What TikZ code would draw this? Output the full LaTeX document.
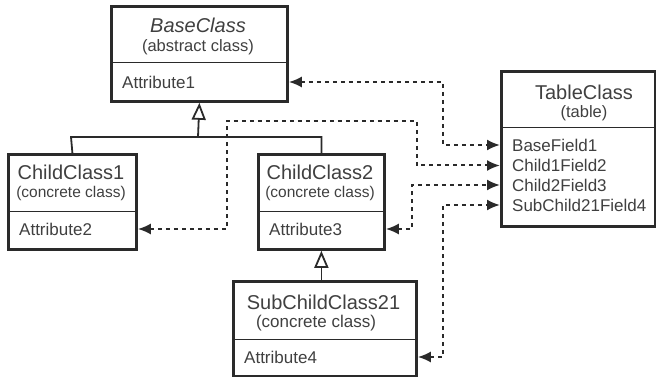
\documentclass[tikz,border=0pt]{standalone}
\usepackage{fontspec}
\setmainfont{Liberation Sans}
\usetikzlibrary{arrows.meta}
\definecolor{ink}{HTML}{2A2A2A}
\definecolor{txt}{HTML}{404040}
\tikzset{
  cls/.style={draw=ink, line width=2.8pt, fill=white, anchor=north west, inner sep=0pt},
  divider/.style={draw=ink, line width=1pt},
  ttl/.style={text=txt, font=\fontsize{20}{22}\selectfont, inner sep=0pt},
  sub/.style={text=txt, font=\fontsize{16.5}{18}\selectfont, inner sep=0pt},
  attr/.style={text=txt, font=\fontsize{17}{19}\selectfont, inner sep=0pt, anchor=west},
  inh/.style={draw=ink, line width=1.8pt, -{Triangle[open, length=17pt, width=14pt, line width=1.8pt]}},
  tree/.style={draw=ink, line width=1.8pt},
  dep/.style={draw=ink, line width=2pt, dash pattern=on 4pt off 4pt,
    {Latex[length=13pt, width=11pt]}-{Latex[length=13pt, width=11pt]}}
}
\begin{document}
\begin{tikzpicture}[x=1pt, y=-1pt]
\useasboundingbox (0,0) rectangle (656,377);
% Base class
\node[cls, minimum width=176pt, minimum height=95pt] (base) at (110,5) {};
\draw[divider] (110,63) -- (286,63);
\node[ttl, font=\fontsize{20}{22}\selectfont\itshape] (baset) at (198,25) {BaseClass};
\node[sub] (bases) at (198,47) {(abstract class)};
\node[attr] (attr1) at (122,82) {Attribute1};
% Child class 1
\node[cls, minimum width=128pt, minimum height=95pt] (c1) at (7,153) {};
\draw[divider] (7,211) -- (135,211);
\node[ttl] (c1t) at (71,172) {ChildClass1};
\node[sub, font=\fontsize{15.5}{17}\selectfont] (c1s) at (71,193) {(concrete class)};
\node[attr] (attr2) at (19,229) {Attribute2};
% Child class 2
\node[cls, minimum width=126pt, minimum height=95pt] (c2) at (257,153) {};
\draw[divider] (257,211) -- (383,211);
\node[ttl] (c2t) at (320,172) {ChildClass2};
\node[sub, font=\fontsize{15.5}{17}\selectfont] (c2s) at (320,193) {(concrete class)};
\node[attr] (attr3) at (269,229) {Attribute3};
% Sub child class
\node[cls, minimum width=183pt, minimum height=95pt] (sc) at (232,280) {};
\draw[divider] (232,339) -- (415,339);
\node[ttl] (sct) at (323.5,302) {SubChildClass21};
\node[sub, font=\fontsize{17}{19}\selectfont] (scs) at (316,323) {(concrete class)};
\node[attr] (attr4) at (244,357) {Attribute4};
% Table class
\node[cls, minimum width=154pt, minimum height=155pt] (table) at (500,70) {};
\draw[divider] (500,128) -- (654,128);
\node[ttl] (tt) at (584,92) {TableClass};
\node[sub] (ts) at (584,113) {(table)};
\node[attr] (f1) at (512,145) {BaseField1};
\node[attr] (f2) at (512,165.5) {Child1Field2};
\node[attr] (f3) at (512,185) {Child2Field3};
\node[attr] (f4) at (512,205) {SubChild21Field4};
% Inheritance
\draw[tree] (c1.north) -- (71,137) -| (c2.north);
\draw[inh] (198,137) -- (base.south);
\draw[inh] (c2.south |- sc.north) -- (c2.south);
% Mappings
\draw[dep] (base.east |- attr1) -- (443,82) -- (443,145) -- (table.west |- f1);
\draw[dep] (c1.east |- attr2) -- (227,229) -- (227,121) -- (417,121) -- (417,165.5) -- (table.west |- f2);
\draw[dep] (c2.east |- attr3) -- (412,229) -- (412,185) -- (table.west |- f3);
\draw[dep] (sc.east |- attr4) -- (443,357) -- (443,205) -- (table.west |- f4);
\end{tikzpicture}
\end{document}
